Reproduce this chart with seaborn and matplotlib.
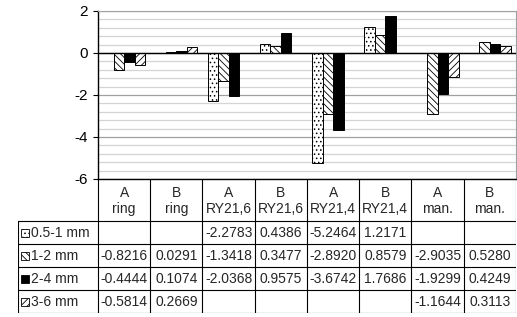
import numpy as np
import pandas as pd
import matplotlib
matplotlib.use("Agg")
import matplotlib.pyplot as plt
import seaborn as sns
from matplotlib.patches import Rectangle

categories = ["A\nring", "B\nring", "A\nRY21,6", "B\nRY21,6",
              "A\nRY21,4", "B\nRY21,4", "A\nman.", "B\nman."]
sizes = ["0.5-1 mm", "1-2 mm", "2-4 mm", "3-6 mm"]
v_05_1 = [np.nan, np.nan, -2.2783, 0.4386, -5.2464, 1.2171, np.nan, np.nan]
v_1_2 = [-0.8216, 0.0291, -1.3418, 0.3477, -2.8920, 0.8579, -2.9035, 0.5280]
v_2_4 = [-0.4444, 0.1074, -2.0368, 0.9575, -3.6742, 1.7686, -1.9299, 0.4249]
v_3_6 = [-0.5814, 0.2669, np.nan, np.nan, np.nan, np.nan, -1.1644, 0.3113]
series = [v_05_1, v_1_2, v_2_4, v_3_6]

rows = []
for s, vals in zip(sizes, series):
    for c, v in zip(categories, vals):
        rows.append({"cat": c, "size": s, "val": v})
df = pd.DataFrame(rows)

sns.set_style("white")
plt.rcParams["font.family"] = ["Liberation Sans", "DejaVu Sans"]
plt.rcParams["axes.unicode_minus"] = False
plt.rcParams["hatch.linewidth"] = 0.6

W, H = 517, 317
fig = plt.figure(figsize=(W / 100, H / 100), dpi=100)

x0, x1 = 98, 516
ytop, ybot = 11, 179
ax = fig.add_axes([x0 / W, 1 - ybot / H, (x1 - x0) / W, (ybot - ytop) / H])

sns.barplot(data=df, x="cat", y="val", hue="size", order=categories,
            hue_order=sizes, errorbar=None, width=0.8, gap=0,
            legend=False, ax=ax)

styles = [("white", "...."), ("white", "\\\\\\\\\\"), ("black", ""), ("white", "/////")]
for cont, (fc, h) in zip(ax.containers, styles):
    for p in cont:
        p.set_facecolor(fc)
        p.set_edgecolor("black")
        p.set_linewidth(0.7)
        p.set_hatch(h)
        p.set_zorder(2)

ax.set_xlim(-0.5, 7.5)
ax.set_ylim(-6, 2)
for y in np.arange(-6, 2.01, 0.4):
    major = abs(y / 2 - round(y / 2)) < 1e-6
    ax.axhline(y, color="#a0a0a0" if major else "#d4d4d4",
               lw=0.9, zorder=0.5)
ax.axhline(0, color="black", lw=1, zorder=3)
ax.set_yticks([-6, -4, -2, 0, 2])
ax.set_xticks([])
ax.set_xlabel("")
ax.set_ylabel("")
ax.tick_params(axis="y", which="major", length=3.6, width=0.8,
               direction="out", left=True, labelsize=11, pad=4, colors="black")
for side in ["top", "right"]:
    ax.spines[side].set_color("#a0a0a0")
    ax.spines[side].set_linewidth(0.8)
for side in ["left", "bottom"]:
    ax.spines[side].set_color("black")
    ax.spines[side].set_linewidth(1)

# data table below
tl, tb = 18, 313
cw = (x1 - x0) / 8
tax = fig.add_axes([tl / W, 1 - tb / H, (x1 - tl) / W, (tb - ybot) / H])
tax.set_xlim(-0.5 - (x0 - tl) / cw, 7.5)
tax.set_ylim(tb, ybot)
tax.axis("off")
lx = -0.5 - (x0 - tl) / cw
hdr = 221
rh = 23
lc = "black"
for i in range(9):
    tax.plot([i - 0.5, i - 0.5], [ybot, tb], color=lc, lw=0.8)
tax.plot([lx, lx], [hdr, tb], color=lc, lw=0.8)
for r in range(5):
    y = hdr + r * rh
    tax.plot([lx, 7.5], [y, y], color=lc, lw=0.8)

for i, c in enumerate(categories):
    tax.text(i, (ybot + hdr) / 2 + 1, c, ha="center", va="center",
             fontsize=10, linespacing=1.15)

for r, (s, vals, (fc, h)) in enumerate(zip(sizes, series, styles)):
    yc = hdr + r * rh + rh / 2
    tax.add_patch(Rectangle((lx + 3 / cw, yc - 4), 8 / cw, 8,
                            facecolor=fc, edgecolor="black", lw=0.6, hatch=h))
    tax.text(lx + 13 / cw, yc + 0.5, s, ha="left", va="center", fontsize=10)
    for i, v in enumerate(vals):
        if not np.isnan(v):
            tax.text(i, yc + 0.5, f"{v:.4f}", ha="center", va="center", fontsize=10)

fig.savefig("out.png", dpi=100)
